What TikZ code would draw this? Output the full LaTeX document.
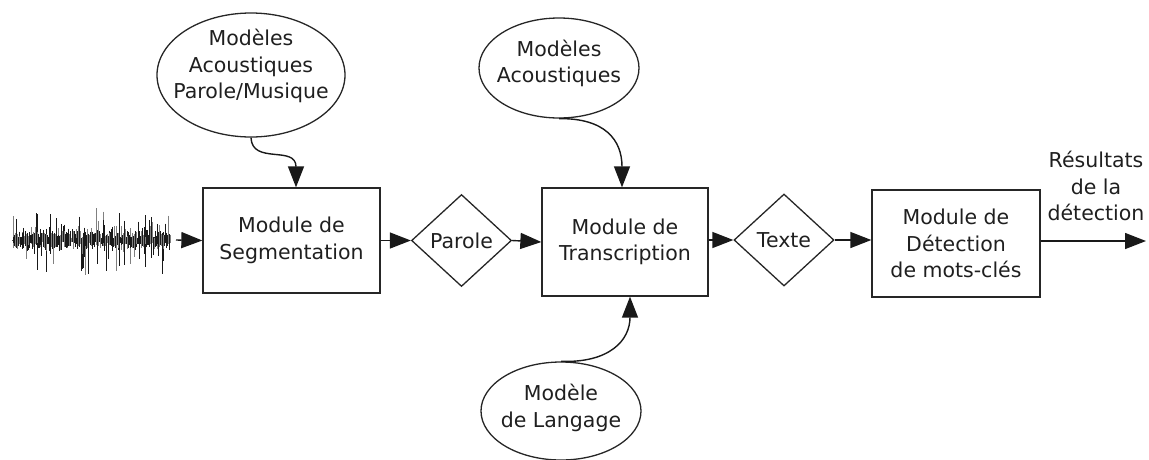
\documentclass[tikz,border=0pt]{standalone}
\usepackage{fontspec}
\setmainfont{DejaVu Sans}
\usetikzlibrary{shapes.geometric,arrows.meta}
\begin{document}
\begin{tikzpicture}[x=1pt,y=-1pt,
  every node/.style={font=\fontsize{20.5}{26.5}\selectfont, text=black!88},
  modbox/.style={draw=black!85, line width=1.3pt, rectangle, inner sep=0pt},
  ell/.style={draw=black!85, line width=1.3pt, ellipse, inner sep=0pt},
  dia/.style={draw=black!85, line width=1.3pt, diamond, inner sep=0pt, minimum width=100pt, minimum height=92pt},
  txt/.style={align=center, inner sep=0pt},
  arr/.style={line width=1.4pt, draw=black!90, -{Triangle[length=21pt,width=16pt]}}]
\useasboundingbox (0,0) rectangle (1149,459);
% waveform
\pgfmathsetseed{11}
\draw[line width=1pt, black!70] (12,240) -- (170,240);
\foreach \i in {0,...,210}{
  \pgfmathsetmacro\xx{13+0.75*\i}
  \pgfmathsetmacro\aa{2+7*rnd+24*rnd^6}
  \pgfmathsetmacro\bb{2+7*rnd+28*rnd^6}
  \pgfmathtruncatemacro\cc{mod(\i,3)}
  \ifnum\cc=0
    \draw[line width=1pt, black!50] (\xx,240-\aa) -- (\xx,240+\bb);
  \else
    \draw[line width=1pt, black!90] (\xx,240-\aa) -- (\xx,240+\bb);
  \fi
}
\coordinate (wav) at (176,240);
% nodes
\node[modbox, minimum width=177pt, minimum height=105pt, txt] (seg) at (291.5,240.5) {Module de\\Segmentation};
\node[dia] (parole) at (461.5,240.5) {Parole};
\node[modbox, minimum width=166pt, minimum height=108pt, txt] (trans) at (625,242) {Module de\\Transcription};
\node[dia] (texte) at (784,240) {Texte};
\node[modbox, minimum width=168pt, minimum height=107pt, txt] (det) at (956,243.5) {Module de\\Détection\\de mots-clés};
\node[txt] (res) at (1096,186) {Résultats\\de la\\détection};
\coordinate (out) at (1146,241);
\node[ell, minimum width=188pt, minimum height=124pt] (e1) at (251,75) {};
\node[txt] (e1t) at (251,66) {Modèles\\Acoustiques\\Parole/Musique};
\node[ell, minimum width=160pt, minimum height=100pt] (e2) at (559,68) {};
\node[txt] (e2t) at (559,63.5) {Modèles\\Acoustiques};
\node[ell, minimum width=160pt, minimum height=98pt] (e3) at (561,411) {};
\node[txt] (e3t) at (561,408) {Modèle\\de Langage};
% connectors
\draw[arr] (wav) -- (seg.west);
\draw[arr] (seg.east) -- (parole.west);
\draw[arr] (parole.east) -- (trans.west);
\draw[arr] (trans.east |- texte.west) -- (texte.west);
\draw[arr] (texte.east) -- (det.west |- texte.east);
\draw[arr] (det.east |- out) -- (out);
\draw[arr] (e1.south) .. controls (252,165) and (296,145) .. (seg.north -| 296,0);
\draw[arr] (e2.south) .. controls (605,118) and (622,140) .. (trans.north -| 622,0);
\draw[arr] (e3.north) .. controls (610,363) and (630,340) .. (trans.south -| 630,0);
\end{tikzpicture}
\end{document}
